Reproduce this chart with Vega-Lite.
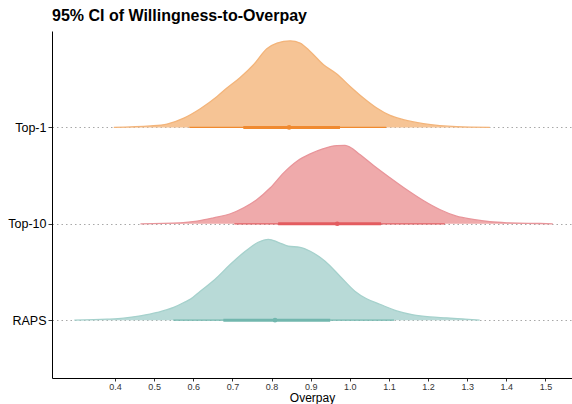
{
  "$schema": "https://vega.github.io/schema/vega-lite/v6.json",
  "width": 520,
  "height": 347,
  "autosize": "none",
  "padding": {"left": 52, "top": 31, "right": 0, "bottom": 26},
  "background": "white",
  "config": {"view": {"stroke": null}, "font": "Liberation Sans"},
  "title": {"text": "95% CI of Willingness-to-Overpay", "anchor": "start", "frame": "group", "fontSize": 16, "fontWeight": "bold", "color": "#000000", "font": "Liberation Sans", "offset": 7},
  "datasets": {
    "dens": [
      {"group": "Top-1", "overpay": 0.397, "density": 0},
      {"group": "Top-1", "overpay": 0.491, "density": 0.015},
      {"group": "Top-1", "overpay": 0.533, "density": 0.035},
      {"group": "Top-1", "overpay": 0.576, "density": 0.097},
      {"group": "Top-1", "overpay": 0.618, "density": 0.194},
      {"group": "Top-1", "overpay": 0.661, "density": 0.321},
      {"group": "Top-1", "overpay": 0.686, "density": 0.408},
      {"group": "Top-1", "overpay": 0.72, "density": 0.518},
      {"group": "Top-1", "overpay": 0.754, "density": 0.65},
      {"group": "Top-1", "overpay": 0.788, "density": 0.816},
      {"group": "Top-1", "overpay": 0.814, "density": 0.875},
      {"group": "Top-1", "overpay": 0.848, "density": 0.898},
      {"group": "Top-1", "overpay": 0.873, "density": 0.875},
      {"group": "Top-1", "overpay": 0.899, "density": 0.788},
      {"group": "Top-1", "overpay": 0.933, "density": 0.65},
      {"group": "Top-1", "overpay": 0.967, "density": 0.553},
      {"group": "Top-1", "overpay": 1.001, "density": 0.425},
      {"group": "Top-1", "overpay": 1.035, "density": 0.305},
      {"group": "Top-1", "overpay": 1.069, "density": 0.201},
      {"group": "Top-1", "overpay": 1.103, "density": 0.124},
      {"group": "Top-1", "overpay": 1.137, "density": 0.08},
      {"group": "Top-1", "overpay": 1.188, "density": 0.038},
      {"group": "Top-1", "overpay": 1.23, "density": 0.018},
      {"group": "Top-1", "overpay": 1.273, "density": 0.007},
      {"group": "Top-1", "overpay": 1.358, "density": 0},
      {"group": "Top-10", "overpay": 0.465, "density": 0},
      {"group": "Top-10", "overpay": 0.567, "density": 0.01},
      {"group": "Top-10", "overpay": 0.61, "density": 0.028},
      {"group": "Top-10", "overpay": 0.652, "density": 0.062},
      {"group": "Top-10", "overpay": 0.695, "density": 0.104},
      {"group": "Top-10", "overpay": 0.729, "density": 0.166},
      {"group": "Top-10", "overpay": 0.763, "density": 0.252},
      {"group": "Top-10", "overpay": 0.797, "density": 0.373},
      {"group": "Top-10", "overpay": 0.831, "density": 0.528},
      {"group": "Top-10", "overpay": 0.865, "density": 0.649},
      {"group": "Top-10", "overpay": 0.899, "density": 0.725},
      {"group": "Top-10", "overpay": 0.933, "density": 0.78},
      {"group": "Top-10", "overpay": 0.967, "density": 0.811},
      {"group": "Top-10", "overpay": 0.988, "density": 0.813},
      {"group": "Top-10", "overpay": 1.001, "density": 0.794},
      {"group": "Top-10", "overpay": 1.026, "density": 0.718},
      {"group": "Top-10", "overpay": 1.06, "density": 0.607},
      {"group": "Top-10", "overpay": 1.103, "density": 0.477},
      {"group": "Top-10", "overpay": 1.145, "density": 0.355},
      {"group": "Top-10", "overpay": 1.188, "density": 0.241},
      {"group": "Top-10", "overpay": 1.23, "density": 0.148},
      {"group": "Top-10", "overpay": 1.273, "density": 0.079},
      {"group": "Top-10", "overpay": 1.315, "density": 0.045},
      {"group": "Top-10", "overpay": 1.358, "density": 0.021},
      {"group": "Top-10", "overpay": 1.401, "density": 0.01},
      {"group": "Top-10", "overpay": 1.486, "density": 0.003},
      {"group": "Top-10", "overpay": 1.519, "density": 0},
      {"group": "RAPS", "overpay": 0.296, "density": 0},
      {"group": "RAPS", "overpay": 0.38, "density": 0.01},
      {"group": "RAPS", "overpay": 0.422, "density": 0.021},
      {"group": "RAPS", "overpay": 0.465, "density": 0.045},
      {"group": "RAPS", "overpay": 0.508, "density": 0.08},
      {"group": "RAPS", "overpay": 0.55, "density": 0.132},
      {"group": "RAPS", "overpay": 0.576, "density": 0.183},
      {"group": "RAPS", "overpay": 0.593, "density": 0.218},
      {"group": "RAPS", "overpay": 0.618, "density": 0.301},
      {"group": "RAPS", "overpay": 0.656, "density": 0.425},
      {"group": "RAPS", "overpay": 0.695, "density": 0.58},
      {"group": "RAPS", "overpay": 0.733, "density": 0.715},
      {"group": "RAPS", "overpay": 0.766, "density": 0.808},
      {"group": "RAPS", "overpay": 0.792, "density": 0.839},
      {"group": "RAPS", "overpay": 0.817, "density": 0.808},
      {"group": "RAPS", "overpay": 0.843, "density": 0.767},
      {"group": "RAPS", "overpay": 0.873, "density": 0.756},
      {"group": "RAPS", "overpay": 0.899, "density": 0.715},
      {"group": "RAPS", "overpay": 0.937, "density": 0.611},
      {"group": "RAPS", "overpay": 0.975, "density": 0.456},
      {"group": "RAPS", "overpay": 1.013, "density": 0.301},
      {"group": "RAPS", "overpay": 1.043, "density": 0.222},
      {"group": "RAPS", "overpay": 1.077, "density": 0.165},
      {"group": "RAPS", "overpay": 1.12, "density": 0.096},
      {"group": "RAPS", "overpay": 1.162, "density": 0.055},
      {"group": "RAPS", "overpay": 1.205, "density": 0.034},
      {"group": "RAPS", "overpay": 1.247, "density": 0.024},
      {"group": "RAPS", "overpay": 1.332, "density": 0}
    ],
    "ci": [
      {"group": "Top-1", "lower95": 0.59, "upper95": 1.093, "lower66": 0.728, "upper66": 0.975, "median": 0.845},
      {"group": "Top-10", "lower95": 0.705, "upper95": 1.243, "lower66": 0.817, "upper66": 1.08, "median": 0.968},
      {"group": "RAPS", "lower95": 0.549, "upper95": 1.113, "lower66": 0.677, "upper66": 0.95, "median": 0.809}
    ]
  },
  "layer": [
    {
      "data": {"name": "dens"},
      "transform": [
        {"calculate": "indexof(['RAPS','Top-10','Top-1'], datum.group) + 1", "as": "base"},
        {"calculate": "datum.base + datum.density", "as": "ridge"}
      ],
      "layer": [
        {
          "mark": {"type": "area", "interpolate": "monotone", "opacity": 1},
          "encoding": {
            "x": {"field": "overpay", "type": "quantitative"},
            "y": {"field": "ridge", "type": "quantitative"},
            "y2": {"field": "base"},
            "detail": {"field": "group"},
            "fill": {"field": "group", "type": "nominal", "scale": {"domain": ["Top-1", "Top-10", "RAPS"], "range": ["#F6C495", "#EFAAAB", "#B8DAD7"]}, "legend": null}
          }
        },
        {
          "mark": {"type": "line", "interpolate": "monotone", "strokeWidth": 1.3},
          "encoding": {
            "x": {"field": "overpay", "type": "quantitative"},
            "y": {"field": "ridge", "type": "quantitative"},
            "detail": {"field": "group"},
            "stroke": {"field": "group", "type": "nominal", "scale": {"domain": ["Top-1", "Top-10", "RAPS"], "range": ["#F3B47A", "#E8959A", "#A5D1CC"]}, "legend": null}
          }
        }
      ]
    },
    {
      "data": {"name": "ci"},
      "transform": [
        {"calculate": "indexof(['RAPS','Top-10','Top-1'], datum.group) + 1", "as": "base"}
      ],
      "layer": [
        {
          "mark": {"type": "rule", "strokeWidth": 1.2},
          "encoding": {
            "x": {"field": "lower95", "type": "quantitative"},
            "x2": {"field": "upper95"},
            "y": {"field": "base", "type": "quantitative"},
            "color": {"field": "group", "type": "nominal", "scale": {"domain": ["Top-1", "Top-10", "RAPS"], "range": ["#F08A30", "#E35C60", "#72B7AE"]}, "legend": null}
          }
        },
        {
          "mark": {"type": "rule", "strokeWidth": 3},
          "encoding": {
            "x": {"field": "lower66", "type": "quantitative"},
            "x2": {"field": "upper66"},
            "y": {"field": "base", "type": "quantitative"},
            "color": {"field": "group", "type": "nominal", "scale": {"domain": ["Top-1", "Top-10", "RAPS"], "range": ["#F08A30", "#E35C60", "#72B7AE"]}, "legend": null}
          }
        },
        {
          "mark": {"type": "circle", "size": 22, "opacity": 1},
          "encoding": {
            "x": {"field": "median", "type": "quantitative"},
            "y": {"field": "base", "type": "quantitative"},
            "color": {"field": "group", "type": "nominal", "scale": {"domain": ["Top-1", "Top-10", "RAPS"], "range": ["#F08A30", "#E35C60", "#72B7AE"]}, "legend": null}
          }
        }
      ]
    }
  ],
  "encoding": {
    "x": {
      "type": "quantitative",
      "scale": {"domain": [0.239, 1.568], "nice": false, "zero": false},
      "axis": {"values": [0.4, 0.5, 0.6, 0.7, 0.8, 0.9, 1.0, 1.1, 1.2, 1.3, 1.4, 1.5], "format": ".1f", "grid": false, "domainColor": "#000000", "domainWidth": 1, "tickColor": "#333333", "tickSize": 3, "labelFontSize": 9, "labelColor": "#333333", "labelPadding": 1.5, "title": "Overpay", "titleFontSize": 12, "titleFontWeight": "normal", "titleColor": "#000000", "titlePadding": 0.5}
    },
    "y": {
      "type": "quantitative",
      "scale": {"domain": [0.4, 4.0], "nice": false, "zero": false},
      "axis": {"values": [1, 2, 3], "labelExpr": "datum.value == 1 ? 'RAPS' : datum.value == 2 ? 'Top-10' : 'Top-1'", "grid": true, "gridDash": [1.5, 3], "gridColor": "#A8A8A8", "gridWidth": 1, "domainColor": "#000000", "domainWidth": 1, "tickColor": "#333333", "tickSize": 4, "labelFontSize": 12.5, "labelColor": "#000000", "labelPadding": 2, "title": null}
    }
  }
}
